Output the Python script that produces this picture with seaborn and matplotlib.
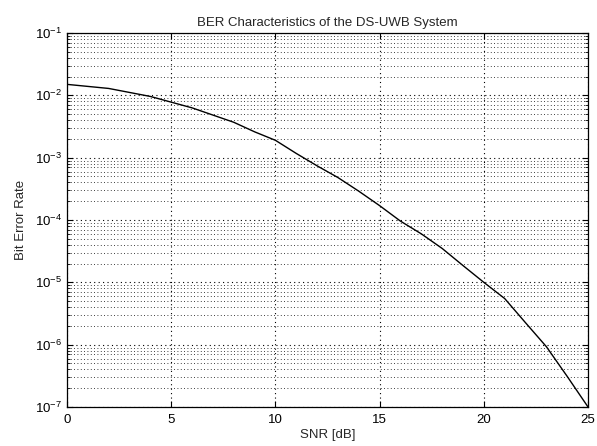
import matplotlib
matplotlib.use("Agg")
import matplotlib.pyplot as plt
import seaborn as sns
import pandas as pd
import numpy as np
from matplotlib.ticker import FixedLocator, NullFormatter

snr_db = [0, 2, 4, 6, 8, 9, 10, 11, 12, 13, 14, 15, 16, 17, 18, 19, 20, 21, 22, 23, 24, 25]
ber = [1.5e-2, 1.29e-2, 9.6e-3, 6.3e-3, 3.7e-3, 2.6e-3, 1.9e-3, 1.17e-3, 7.4e-4,
       4.8e-4, 2.9e-4, 1.7e-4, 9.6e-5, 6.0e-5, 3.5e-5, 1.86e-5, 1.0e-5, 5.5e-6,
       2.25e-6, 9.3e-7, 3.1e-7, 1.0e-7]
x_ticks = [0, 5, 10, 15, 20, 25]
y_exponents = [-7, -6, -5, -4, -3, -2, -1]
title = "BER Characteristics of the DS-UWB System"
xlabel = "SNR [dB]"
ylabel = "Bit Error Rate"

df = pd.DataFrame({"snr": snr_db, "ber": ber})

sns.set_style("ticks")
plt.rcParams["font.family"] = ["Liberation Sans", "DejaVu Sans"]
plt.rcParams["mathtext.fontset"] = "custom"
plt.rcParams["mathtext.rm"] = "Liberation Sans"
plt.rcParams["mathtext.it"] = "Liberation Sans"

fig = plt.figure(figsize=(5.97, 4.46), dpi=100)
ax = fig.add_axes([0.1122, 0.0874, 0.8728, 0.8386])

sns.lineplot(data=df, x="snr", y="ber", ax=ax, color="black", linewidth=1.0)
ax.set_yscale("log")
ax.set_xlim(0, 25)
ax.set_ylim(1e-7, 1e-1)
ax.xaxis.set_major_locator(FixedLocator(x_ticks))
major_y = [10.0 ** e for e in y_exponents]
minor_y = [m * 10.0 ** e for e in y_exponents[:-1] for m in range(2, 10)]
ax.yaxis.set_major_locator(FixedLocator(major_y))
ax.set_yticklabels([f"$10^{{{e}}}$" for e in y_exponents])
ax.yaxis.set_minor_locator(FixedLocator(minor_y))
ax.yaxis.set_minor_formatter(NullFormatter())

ax.grid(True, which="major", axis="both", linestyle=(0, (1, 3)), color="black", linewidth=0.8)
ax.grid(True, which="minor", axis="y", linestyle=(0, (1, 3)), color="black", linewidth=0.6)

ax.tick_params(direction="in", which="both", top=True, right=True, labelsize=9.5,
               colors="black", length=4)
ax.tick_params(which="minor", length=2)
ax.tick_params(axis="x", pad=5)
for s in ax.spines.values():
    s.set_color("black")
    s.set_linewidth(0.9)

ax.set_title(title, fontsize=9.5, pad=5)
ax.set_xlabel(xlabel, fontsize=9.5, labelpad=2)
ax.set_ylabel(ylabel, fontsize=9.5, labelpad=6)

fig.savefig("out.png", dpi=100)
